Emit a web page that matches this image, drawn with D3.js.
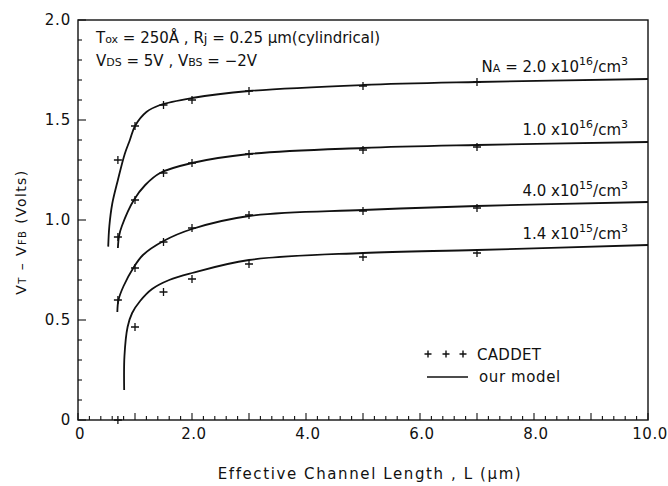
<!DOCTYPE html>
<html><head><meta charset="utf-8">
<script src="https://cdn.jsdelivr.net/npm/d3@7"></script>
<style>
body{margin:0;background:#fff;}
text{font-family:"DejaVu Sans",sans-serif;fill:#111;}
</style></head>
<body><svg id="c" width="668" height="486"></svg>
<script>
// ---- data ----
const xTicks = [0, 2, 4, 6, 8, 10];
const xTickLabels = ["0", "2.0", "4.0", "6.0", "8.0", "10.0"];
const yTicks = [0, 0.5, 1.0, 1.5, 2.0];
const yTickLabels = ["0", "0.5", "1.0", "1.5", "2.0"];

// CADDET simulated points
const caddetL = [0.7, 1.0, 1.5, 2.0, 3.0, 5.0, 7.0];
const caddet20e16 = [1.30, 1.47, 1.575, 1.60, 1.645, 1.67, 1.69];
const caddet10e16 = [0.915, 1.10, 1.235, 1.285, 1.33, 1.35, 1.365];
const caddet40e15 = [0.60, 0.76, 0.89, 0.96, 1.025, 1.045, 1.06];
const caddet14e15 = [0.0, 0.465, 0.64, 0.705, 0.78, 0.815, 0.835];

// model curves
const model20e16L = [0.53, 0.55, 0.60, 0.70, 0.82, 0.91, 1.0, 1.2, 1.44, 2.0, 3.0, 5.0, 7.0, 10.0];
const model20e16V = [0.867, 0.97, 1.08, 1.20, 1.33, 1.40, 1.47, 1.54, 1.575, 1.61, 1.645, 1.675, 1.69, 1.705];
const model10e16L = [0.70, 0.72, 0.77, 0.98, 1.18, 1.44, 2.0, 3.0, 5.0, 7.0, 10.0];
const model10e16V = [0.86, 0.92, 0.97, 1.10, 1.175, 1.235, 1.285, 1.33, 1.36, 1.375, 1.39];
const model40e15L = [0.69, 0.71, 0.8, 0.97, 1.14, 1.5, 2.0, 3.0, 5.0, 7.0, 10.0];
const model40e15V = [0.54, 0.60, 0.67, 0.76, 0.825, 0.895, 0.955, 1.02, 1.05, 1.07, 1.09];
const model14e15L = [0.81, 0.815, 0.87, 0.95, 1.09, 1.3, 1.6, 2.0, 3.0, 5.0, 7.0, 10.0];
const model14e15V = [0.15, 0.32, 0.465, 0.535, 0.595, 0.655, 0.70, 0.735, 0.80, 0.835, 0.85, 0.875];

const curveLabels = [
  {m: "2.0", e: "16", pre: true,  y: 1.74},
  {m: "1.0", e: "16", pre: false, y: 1.425},
  {m: "4.0", e: "15", pre: false, y: 1.12},
  {m: "1.4", e: "15", pre: false, y: 0.905}
];

// ---- drawing ----
const svg = d3.select("#c");
const x = d3.scaleLinear().domain([0, 10]).range([78, 648]);
const y = d3.scaleLinear().domain([0, 2]).range([420, 20]);

const g = svg.append("g");
// frame
g.append("rect").attr("x", x(0)).attr("y", y(2)).attr("width", x(10) - x(0)).attr("height", y(0) - y(2))
  .attr("fill", "none").attr("stroke", "#111").attr("stroke-width", 1.4);

// x ticks (inward)
const xMinor = d3.range(0, 10.001, 0.2);
g.selectAll(".xt").data(xMinor).enter().append("line")
  .attr("x1", d => x(d)).attr("x2", d => x(d))
  .attr("y1", y(0)).attr("y2", d => y(0) - (Math.abs(d - Math.round(d)) < 1e-6 ? 7 : 4))
  .attr("stroke", "#111").attr("stroke-width", 1.1);
// y ticks (inward)
const yMinor = d3.range(0, 2.001, 0.1);
g.selectAll(".yt").data(yMinor).enter().append("line")
  .attr("y1", d => y(d)).attr("y2", d => y(d))
  .attr("x1", x(0)).attr("x2", d => x(0) + (Math.abs(d * 2 - Math.round(d * 2)) < 1e-6 ? 8 : 4))
  .attr("stroke", "#111").attr("stroke-width", 1.1);

// tick labels
g.selectAll(".xl").data(xTicks).enter().append("text")
  .attr("x", d => x(d) + 2).attr("y", 439).attr("text-anchor", "middle")
  .attr("font-size", 15).attr("letter-spacing", 0.5)
  .text((d, i) => xTickLabels[i]);
g.selectAll(".yl").data(yTicks).enter().append("text")
  .attr("x", 71).attr("y", d => y(d) + 5).attr("text-anchor", "end")
  .attr("font-size", 15).attr("letter-spacing", 0.8)
  .text((d, i) => yTickLabels[i]);

// axis titles
svg.append("text").attr("x", 370).attr("y", 479).attr("text-anchor", "middle")
  .attr("font-size", 15).attr("letter-spacing", 1.6)
  .text("Effective Channel Length , L (μm)");
const yt = svg.append("text").attr("transform", "translate(26,232) rotate(-90)")
  .attr("text-anchor", "middle").attr("font-size", 14).attr("letter-spacing", 1.4);
yt.append("tspan").text("V");
yt.append("tspan").attr("font-size", 10).text("T");
yt.append("tspan").text("  –  V");
yt.append("tspan").attr("font-size", 10).text("FB");
yt.append("tspan").text("  (Volts)");

// annotations
const a1 = svg.append("text").attr("x", 96).attr("y", 43).attr("font-size", 15);
a1.append("tspan").text("T");
a1.append("tspan").attr("font-size", 11).text("ox");
a1.append("tspan").text(" = 250Å  , R");
a1.append("tspan").attr("font-size", 13).text("j");
a1.append("tspan").text(" = 0.25 μm(cylindrical)");
const a2 = svg.append("text").attr("x", 96).attr("y", 66).attr("font-size", 15);
a2.append("tspan").text("V");
a2.append("tspan").attr("font-size", 11).text("DS");
a2.append("tspan").text(" = 5V  , V");
a2.append("tspan").attr("font-size", 11).text("BS");
a2.append("tspan").text(" = −2V");

// model lines
const line = d3.line().x(d => x(d[0])).y(d => y(d[1])).curve(d3.curveCatmullRom.alpha(0.5));
const models = [
  [model20e16L, model20e16V], [model10e16L, model10e16V],
  [model40e15L, model40e15V], [model14e15L, model14e15V]
];
models.forEach(([L, V]) => {
  g.append("path").attr("d", line(L.map((l, i) => [l, V[i]])))
    .attr("fill", "none").attr("stroke", "#111").attr("stroke-width", 1.8);
});

// CADDET markers
const plus = (px, py, s) => `M${px - s},${py}H${px + s}M${px},${py - s}V${py + s}`;
[caddet20e16, caddet10e16, caddet40e15, caddet14e15].forEach(vals => {
  g.append("g").selectAll("path").data(caddetL).enter().append("path")
    .attr("d", (l, i) => plus(x(l), y(vals[i]), 4))
    .attr("stroke", "#111").attr("stroke-width", 1.3).attr("fill", "none");
});

// curve labels
curveLabels.forEach(c => {
  const t = g.append("text").attr("x", 628).attr("y", y(c.y)).attr("text-anchor", "end").attr("font-size", 15);
  if (c.pre) {
    t.append("tspan").text("N");
    t.append("tspan").attr("font-size", 11).text("A");
    t.append("tspan").text(" = ");
  }
  t.append("tspan").text(c.m + " x10");
  t.append("tspan").attr("font-size", 11).attr("dy", -7).text(c.e);
  t.append("tspan").attr("dy", 7).text("/cm");
  t.append("tspan").attr("font-size", 11).attr("dy", -7).text("3");
});

// legend
const lg = svg.append("g");
[428, 446, 463].forEach(px => lg.append("path").attr("d", plus(px, 354, 3.5))
  .attr("stroke", "#111").attr("stroke-width", 1.4));
lg.append("text").attr("x", 477).attr("y", 360).attr("font-size", 15).attr("letter-spacing", 0.3).text("CADDET");
lg.append("line").attr("x1", 427).attr("x2", 468).attr("y1", 377).attr("y2", 377)
  .attr("stroke", "#111").attr("stroke-width", 1.5);
lg.append("text").attr("x", 479).attr("y", 382).attr("font-size", 15).attr("letter-spacing", 0.6).text("our model");
</script></body></html>
